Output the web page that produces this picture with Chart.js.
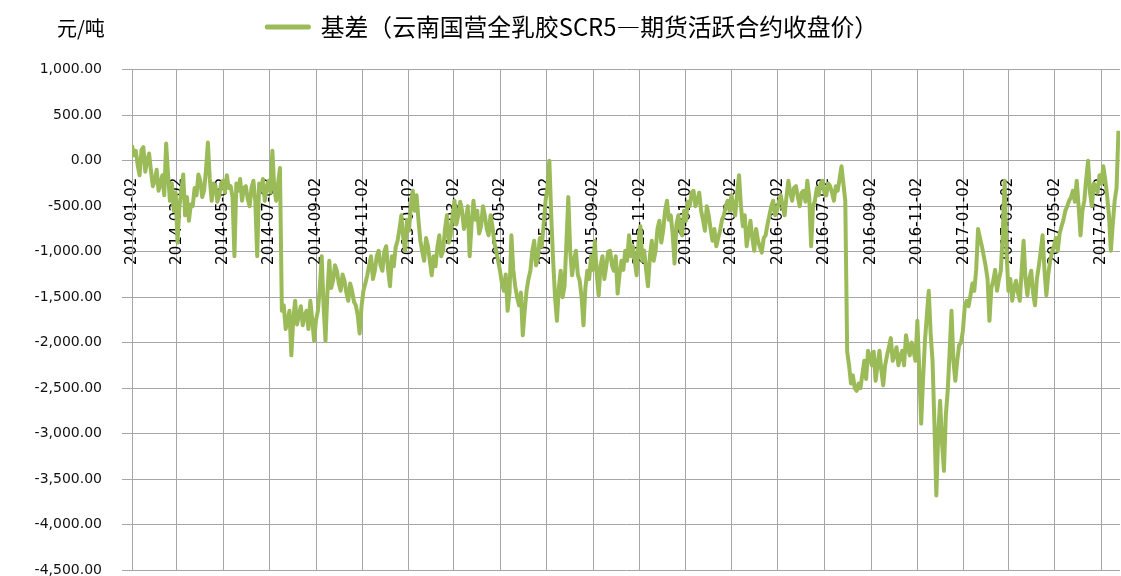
<!DOCTYPE html>
<html lang="zh">

<head>
    <meta charset="UTF-8">
    <title>基差</title>
    <script src="https://cdn.jsdelivr.net/npm/chart.js@4.4.0/dist/chart.umd.min.js"></script>
    <style>
        html, body { margin: 0; padding: 0; overflow: hidden; background: #fff; }
        #wrap { width: 1130px; height: 600px; }
    </style>
</head>

<body>
    <div id="wrap">
        <canvas id="chart"></canvas>
    </div>
    <script>
        const unitLabel = '元/吨'
        const seriesName = '基差（云南国营全乳胶SCR5—期货活跃合约收盘价）'
        const startDate = '2014-01-02'
        const stepDays = 2.5
        const tickDates = ['2014-01-02', '2014-03-02', '2014-05-02', '2014-07-02', '2014-09-02', '2014-11-02',
            '2015-01-02', '2015-03-02', '2015-05-02', '2015-07-02', '2015-09-02', '2015-11-02',
            '2016-01-02', '2016-03-02', '2016-05-02', '2016-07-02', '2016-09-02', '2016-11-02',
            '2017-01-02', '2017-03-02', '2017-05-02', '2017-07-02']
        const yTicks = [1000, 500, 0, -500, -1000, -1500, -2000, -2500, -3000, -3500, -4000, -4500]

        // one value every 2.5 days from 2014-01-02
        const basis = [
            170, 60, 110, -50, -160, 120, 150, -120, 0, 80, -110, -280, -220, -100, -330, -250,
            -160, -380, 190, -150, -440, -250, -550, -350, -900, -500, -330, -150, -600, -400, -660, -480,
            -500, -300, -380, -150, -220, -400, -330, -100, 200, -200, -440, -250, -280, -450, -380, -250,
            -220, -350, -160, -300, -280, -400, -1050, -250, -330, -200, -440, -300, -280, -420, -500, -300,
            -220, -450, -1050, -250, -330, -200, -440, -300, -220, -350, 110, -300, -440, -250, -80, -1650,
            -1590, -1850, -1760, -1650, -2140, -1750, -1540, -1800, -1700, -1600, -1810, -1700, -1650, -1850, -1540, -1750,
            -1980, -1750, -1650, -1400, -1050, -1600, -1980, -1450, -1100, -1400, -1320, -1150, -1210, -1350, -1430, -1250,
            -1320, -1450, -1540, -1350, -1430, -1550, -1590, -1700, -1900, -1600, -1430, -1350, -1260, -1150, -1050, -1300,
            -1210, -1050, -990, -1150, -1210, -1000, -940, -1200, -1380, -1050, -1160, -950, -880, -750, -600, -850,
            -990, -650, -770, -500, -330, -550, -380, -650, -880, -1000, -1100, -850, -940, -1100, -1260, -1050,
            -1160, -950, -820, -1050, -990, -750, -600, -900, -820, -600, -440, -700, -600, -450, -550, -750,
            -660, -500, -1050, -700, -440, -650, -550, -800, -720, -500, -600, -750, -820, -600, -720, -900,
            -990, -1100, -1210, -1350, -1430, -1250, -1650, -1450, -820, -1200, -1380, -1500, -1590, -1450, -1920, -1650,
            -1430, -1300, -1210, -1000, -880, -1150, -1050, -850, -940, -700, -440, -300, 0, -600, -1100, -1500,
            -1760, -1400, -1210, -1500, -1380, -900, -400, -1000, -1260, -1100, -990, -1250, -1320, -1500, -1810, -1400,
            -1210, -1300, -1050, -1200, -880, -1250, -1480, -1150, -1050, -1300, -1160, -1000, -990, -1150, -1210, -1050,
            -1460, -1250, -1100, -1200, -990, -1100, -820, -1050, -940, -1100, -1260, -900, -720, -1100, -990, -1200,
            -1380, -1050, -880, -1100, -990, -750, -660, -900, -770, -550, -440, -650, -600, -800, -1130, -700,
            -600, -750, -820, -550, -660, -450, -500, -350, -330, -500, -440, -350, -550, -650, -770, -500,
            -600, -750, -880, -750, -940, -850, -770, -650, -600, -500, -440, -550, -380, -500, -600, -350,
            -160, -500, -720, -600, -940, -800, -660, -850, -990, -750, -880, -950, -1010, -850, -820, -700,
            -600, -500, -440, -600, -550, -450, -380, -500, -600, -400, -220, -350, -440, -300, -280, -400,
            -500, -350, -330, -450, -220, -400, -940, -500, -440, -300, -380, -250, -220, -350, -380, -250,
            -280, -350, -440, -280, -330, -200, -60, -250, -440, -2100, -2250, -2450, -2360, -2500, -2530, -2450,
            -2500, -2350, -2200, -2400, -2090, -2150, -2250, -2100, -2420, -2250, -2090, -2300, -2470, -2250, -2140, -2050,
            -1950, -2200, -2140, -2050, -2250, -2150, -2090, -2250, -1920, -2050, -2140, -2000, -2090, -2200, -1760, -2300,
            -2890, -2400, -1980, -1700, -1430, -1900, -2200, -2900, -3680, -3000, -2640, -3100, -3410, -2800, -2530, -2100,
            -1650, -2200, -2420, -2200, -2030, -2000, -1870, -1600, -1540, -1600, -1480, -1350, -1430, -1200, -750, -850,
            -940, -1050, -1160, -1300, -1760, -1400, -1320, -1200, -1430, -1300, -1210, -800, -220, -1000, -1430, -1300,
            -1540, -1400, -1320, -1450, -1540, -1200, -880, -1300, -1480, -1300, -1210, -1450, -1590, -1300, -1160, -1000,
            -820, -1200, -1480, -1250, -1100, -1000, -940, -850, -990, -800, -720, -650, -550, -500, -440, -400,
            -330, -450, -220, -500, -820, -550, -440, -200, 0, -350, -500, -250, -280, -350, -160, -250,
            -60, -200, -380, -600, -990, -700, -440, -300, 330
        ]

        function dayOffset(s) {
            let p = s.split('-').map(Number)
            let q = startDate.split('-').map(Number)
            return (Date.UTC(p[0], p[1] - 1, p[2]) - Date.UTC(q[0], q[1] - 1, q[2])) / 86400000
        }

        const tickDays = tickDates.map(dayOffset)
        const points = basis.map((v, i) => ({ x: i * stepDays, y: v }))

        // unit text top-left, plus extra room under the legend
        const unitTitle = {
            id: 'unitTitle',
            beforeLayout(chart) {
                const lg = chart.legend
                if (lg && !lg._padded) {
                    const fit = lg.fit
                    lg.fit = function() {
                        fit.call(this)
                        this.height += 21
                    }
                    lg._padded = true
                }
            },
            afterDraw(chart) {
                const ctx = chart.ctx
                ctx.save()
                ctx.font = '20px "Noto Sans CJK SC"'
                ctx.fillStyle = '#000'
                ctx.textBaseline = 'middle'
                ctx.textAlign = 'left'
                ctx.fillText(unitLabel, 57, 28)
                ctx.restore()
            }
        }

        const green = '#9BBB59'
        const gridColor = '#a6a6a6'

        new Chart(document.getElementById('chart'), {
            type: 'line',
            data: {
                datasets: [{
                    label: seriesName,
                    data: points,
                    borderColor: green,
                    backgroundColor: green,
                    borderWidth: 4,
                    borderJoinStyle: 'round',
                    pointRadius: 0,
                    tension: 0,
                }]
            },
            options: {
                responsive: true,
                maintainAspectRatio: false,
                animation: false,
                layout: { padding: { left: 15, right: 0, top: 5, bottom: 30 } },
                plugins: {
                    tooltip: { enabled: false },
                    legend: {
                        position: 'top',
                        labels: {
                            boxWidth: 42,
                            boxHeight: 1,
                            color: '#000',
                            font: { family: '"Noto Sans CJK SC"', size: 23.8 },
                            padding: 10,
                        }
                    }
                },
                scales: {
                    x: {
                        type: 'linear',
                        min: 0,
                        max: 1302,
                        position: { y: 0 },
                        afterBuildTicks: (scale) => {
                            scale.ticks = tickDays.map(v => ({ value: v }))
                        },
                        grid: { color: gridColor, lineWidth: 1, drawTicks: true, tickLength: 6 },
                        border: { color: gridColor },
                        ticks: {
                            autoSkip: false,
                            minRotation: 90,
                            maxRotation: 90,
                            padding: 11,
                            color: '#000',
                            font: { family: '"DejaVu Sans"', size: 15 },
                            callback: (v, i) => tickDates[i],
                        }
                    },
                    y: {
                        min: -4500,
                        max: 1000,
                        afterBuildTicks: (scale) => {
                            scale.ticks = yTicks.map(v => ({ value: v }))
                        },
                        afterFit: (scale) => { scale.width = 117 },
                        grid: { color: gridColor, lineWidth: 1, drawTicks: true, tickLength: 10 },
                        border: { color: gridColor },
                        ticks: {
                            padding: 20,
                            color: '#111',
                            font: { family: '"DejaVu Sans"', size: 14 },
                            callback: (v) => v.toLocaleString('en-US', { minimumFractionDigits: 2, maximumFractionDigits: 2 }),
                        }
                    }
                }
            },
            plugins: [unitTitle]
        })
    </script>
</body>

</html>
